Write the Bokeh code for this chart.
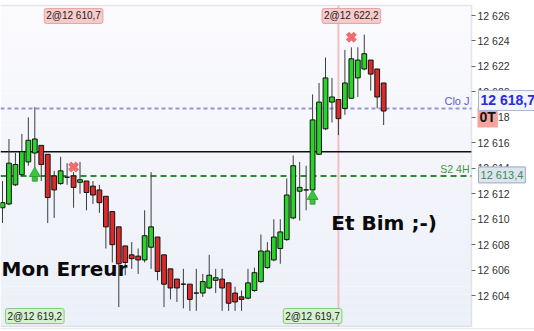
import numpy as np
from bokeh.plotting import figure
from bokeh.models import (Range1d, Label, FixedTicker, ColumnDataSource, LinearAxis,
                          BoxAnnotation)
from bokeh.embed import file_html
from bokeh.resources import INLINE

# --- OHLC bars (one per candle, oldest first) ---
opens = [12610.9, 12611.2, 12612.7, 12613.5, 12614.5, 12615.2, 12615.8, 12615.1, 12613.4, 12612.8,
         12613.3, 12613.4, 12612.9, 12613.0, 12612.6, 12612.3, 12611.8, 12610.6, 12609.4, 12607.9,
         12607.2, 12607.1, 12606.8, 12607.8, 12608.6, 12607.2, 12606.1, 12605.3, 12604.9, 12604.9,
         12604.2, 12604.2, 12604.6, 12605.2, 12605.3, 12605.0, 12604.2, 12603.9, 12603.8, 12604.4,
         12605.1, 12606.2, 12606.8, 12607.7, 12608.4, 12610.1, 12612.2, 12612.3, 12612.3, 12615.1,
         12617.1, 12619.2, 12619.4, 12618.7, 12619.5, 12621.1, 12621.8, 12622.5, 12621.8, 12620.7]
highs = [12613.0, 12616.3, 12615.2, 12616.7, 12618.0, 12618.8, 12615.8, 12615.1, 12613.8, 12614.9,
         12614.4, 12613.7, 12614.5, 12613.0, 12613.0, 12612.7, 12611.8, 12610.6, 12609.4, 12607.9,
         12608.2, 12607.7, 12610.7, 12613.7, 12608.6, 12607.2, 12606.1, 12605.3, 12606.1, 12604.9,
         12606.1, 12605.7, 12607.2, 12606.1, 12606.1, 12605.0, 12604.7, 12604.4, 12606.1, 12606.2,
         12608.8, 12608.2, 12610.0, 12610.0, 12613.2, 12615.0, 12614.5, 12614.2, 12619.8, 12620.7,
         12622.7, 12621.1, 12619.4, 12623.3, 12623.5, 12623.5, 12624.5, 12622.5, 12621.8, 12620.7]
lows = [12609.7, 12611.1, 12612.6, 12613.4, 12614.2, 12613.7, 12613.0, 12609.7, 12610.1, 12612.7,
        12612.7, 12610.9, 12612.0, 12610.7, 12611.2, 12610.5, 12607.7, 12606.6, 12603.1, 12605.6,
        12606.1, 12605.7, 12606.6, 12606.1, 12605.2, 12603.1, 12603.7, 12603.5, 12603.0, 12602.8,
        12602.8, 12603.9, 12604.5, 12604.2, 12602.8, 12602.8, 12602.8, 12602.8, 12603.7, 12604.3,
        12605.0, 12606.1, 12606.7, 12606.5, 12608.3, 12610.0, 12609.9, 12610.7, 12612.2, 12615.1,
        12617.0, 12617.6, 12616.6, 12618.2, 12619.5, 12619.6, 12621.7, 12620.1, 12618.7, 12617.4]
closes = [12611.3, 12614.4, 12614.3, 12615.3, 12616.2, 12616.3, 12614.3, 12611.7, 12612.3, 12613.8,
          12613.3, 12612.5, 12613.1, 12612.1, 12611.9, 12611.3, 12609.4, 12608.0, 12606.5, 12606.6,
          12606.9, 12606.8, 12608.7, 12609.4, 12605.9, 12604.9, 12604.6, 12604.6, 12604.9, 12603.7,
          12604.2, 12605.1, 12605.6, 12605.4, 12604.6, 12603.4, 12603.5, 12603.7, 12605.0, 12605.8,
          12607.5, 12607.5, 12608.6, 12609.0, 12611.9, 12614.2, 12612.5, 12612.3, 12617.8, 12619.2,
          12621.1, 12619.6, 12617.9, 12620.7, 12622.6, 12622.5, 12623.0, 12621.4, 12619.6, 12618.5]

# --- price axis ---
tick_values = [12604, 12606, 12608, 12610, 12612, 12614, 12616, 12618, 12620, 12622, 12624, 12626]
tick_labels = ["12 604", "12 606", "12 608", "12 610", "12 612", "12 614",
               "12 616", "12 618", "12 620", "12 622", "12 624", "12 626"]

# --- reference levels ---
close_j = 12618.7
close_j_text = "12 618,7"
s2_4h = 12613.4
s2_4h_text = "12 613,4"
pivot_level = 12615.3
current_bar = 52

# --- trades ---
sell_idx = [11, 54]
sell_px = [12614.1, 12624.3]
sell_text = ["2@12 610,7", "2@12 622,2"]
buy_idx = [5, 48]
buy_px = [12613.4, 12611.6]
buy_text = ["2@12 619,2", "2@12 619,7"]

GREEN = "#27d427"
RED = "#dc2a2a"

# canvas mapping: the frame covers the whole page; the price pane is a sub-area of it
x0, x1 = -0.31, 82.35          # full canvas width in bar units
pane_right = 72.6              # price pane right edge (axis sits here)
y0, y1 = 12601.18, 12627.18    # full canvas height in price units
pane_bot, pane_top = 12601.57, 12626.79
px = (y1 - y0) / 331.0         # price per pixel

n = len(opens)
idx = np.arange(n)
colors = [GREEN if c > o else (RED if c < o else "#222222") for o, c in zip(opens, closes)]
src = ColumnDataSource(dict(
    x=idx, high=highs, low=lows,
    top=[max(o, c) for o, c in zip(opens, closes)],
    bottom=[min(o, c) for o, c in zip(opens, closes)],
    color=colors,
))

p = figure(width=534, height=331, output_backend="svg", toolbar_location=None,
           x_range=Range1d(x0, x1), y_range=Range1d(y0, y1),
           x_axis_location=None, y_axis_location=None,
           min_border=0)
p.grid.visible = False
p.outline_line_color = None
p.background_fill_color = "white"
p.border_fill_color = "white"

# soft vertical shading of the price pane
bands = np.linspace(pane_bot, pane_top, 41)
c_bot = np.array([0xEC, 0xF0, 0xF8])
c_top = np.array([0xFB, 0xFB, 0xFE])
band_cols = []
for k in range(40):
    t = k / 39
    c = (c_bot * (1 - t) + c_top * t).astype(int)
    band_cols.append("#%02x%02x%02x" % tuple(c))
p.quad(left=x0, right=pane_right, bottom=bands[:-1], top=bands[1:], fill_color=band_cols,
       line_color=None, level="underlay")

# pane border and the edge of the pane below
p.add_layout(BoxAnnotation(left=x0 - 1, right=pane_right, bottom=pane_bot, top=pane_top,
                           fill_alpha=0, line_color="#a9b1ba", line_width=1.5))
p.add_layout(BoxAnnotation(left=x0 - 1, right=x1 + 1, bottom=y0 - 1, top=pane_bot - 2 * px,
                           fill_color="white", fill_alpha=1, line_color="#b4bcc4", line_width=1.2))

# reference lines
p.segment(x0=current_bar, y0=pane_bot, x1=current_bar, y1=pane_top,
          line_color="#f2c0c0", line_width=2)
p.segment(x0=x0, y0=close_j, x1=pane_right, y1=close_j, line_color="#9494dc",
          line_width=2, line_dash="4 3")
p.segment(x0=x0, y0=pivot_level, x1=pane_right, y1=pivot_level, line_color="#111111",
          line_width=1.3)
p.segment(x0=x0, y0=s2_4h, x1=pane_right, y1=s2_4h, line_color="#2e8b2e",
          line_width=2, line_dash="6 4")

# candles
p.segment(x0="x", y0="low", x1="x", y1="high", source=src, line_color="#3c3c3c", line_width=1)
p.vbar(x="x", width=0.74, top="top", bottom="bottom", source=src,
       fill_color="color", line_color="#111111", line_width=1)

# sell markers
p.scatter(x=sell_idx, y=sell_px, marker="x", size=11, line_width=4.5, line_color="#ee6e6e")

# buy arrows (head + stem)
buy_head = [v + 0.2 for v in buy_px]
buy_stem = [v - 0.22 for v in buy_px]
p.scatter(x=buy_idx, y=buy_stem, marker="square", size=5, fill_color="#3cc43c",
          line_color="#2a9a2a", line_width=0.8)
p.scatter(x=buy_idx, y=buy_head, marker="triangle", size=11, fill_color="#3cc43c",
          line_color="#2a9a2a", line_width=0.8)

# price axis pinned to the pane's right edge
ax = LinearAxis(fixed_location=pane_right)
p.add_layout(ax, "right")
ax.ticker = FixedTicker(ticks=tick_values)
ax.major_label_overrides = {v: t for v, t in zip(tick_values, tick_labels)}
ax.axis_line_color = None
ax.major_tick_in = 0
ax.major_tick_out = 4
ax.minor_tick_line_color = None
ax.major_tick_line_color = "#666666"
ax.major_label_standoff = 2
ax.major_label_text_font = "Liberation Sans"
ax.major_label_text_font_size = "10.5px"
ax.major_label_text_color = "#333333"

# trade tags along top and bottom edges of the pane
for i, t in zip(sell_idx, sell_text):
    p.add_layout(Label(x=i, y=pane_top, text=t, text_align="center", text_baseline="top",
                       y_offset=-3, text_font="Liberation Sans", text_font_size="10px",
                       text_color="#222222", background_fill_color="#f8caca",
                       border_line_color="#e6a2a2", padding=2, border_radius=2))
for i, t in zip(buy_idx, buy_text):
    p.add_layout(Label(x=i, y=pane_bot, text=t, text_align="center", text_baseline="bottom",
                       y_offset=3, text_font="Liberation Sans", text_font_size="10px",
                       text_color="#222222", background_fill_color="#d6f2d0",
                       border_line_color="#86cc7a", padding=2, border_radius=2))

# level captions
p.add_layout(Label(x=pane_right, y=close_j, x_offset=-2, y_offset=7, text="Clo J",
                   text_align="right", text_baseline="middle", text_font="Liberation Sans",
                   text_font_size="11px", text_color="#5c5cd0"))
p.add_layout(Label(x=pane_right, y=s2_4h, x_offset=-2, y_offset=7, text="S2 4H",
                   text_align="right", text_baseline="middle", text_font="Liberation Sans",
                   text_font_size="10.5px", text_color="#3a9a3a"))

# right-hand value tags
p.add_layout(Label(x=pane_right, y=close_j, x_offset=6, y_offset=-9, text="0T",
                   text_align="left", text_baseline="middle", text_font="Liberation Sans",
                   text_font_style="bold", text_font_size="14px", text_color="#111111",
                   background_fill_color="#f5a39d", padding=2))
p.add_layout(Label(x=pane_right, y=close_j, x_offset=7, y_offset=8, text=close_j_text,
                   text_align="left", text_baseline="middle", text_font="Liberation Sans",
                   text_font_style="bold", text_font_size="14px", text_color="#2a2ae6",
                   background_fill_color="#f2f5fc", border_line_color="#a9b6cc", padding=2))
p.add_layout(Label(x=pane_right, y=s2_4h, x_offset=7, y_offset=1, text=s2_4h_text,
                   text_align="left", text_baseline="middle", text_font="Liberation Sans",
                   text_font_size="11px", text_color="#3d8a55",
                   background_fill_color="#dce4ee", border_line_color="#9aaabb", padding=2))

# commentary
p.add_layout(Label(x=-0.15, y=12606.1, text="Mon Erreur", text_align="left",
                   text_baseline="middle", text_font="DejaVu Sans", text_font_style="bold",
                   text_font_size="20px", text_color="#0a0a0a"))
p.add_layout(Label(x=50.9, y=12609.7, text="Et Bim ;-)", text_align="left",
                   text_baseline="middle", text_font="DejaVu Sans", text_font_style="bold",
                   text_font_size="20px", text_color="#0a0a0a"))

open("out.html", "w").write(file_html(p, INLINE))
